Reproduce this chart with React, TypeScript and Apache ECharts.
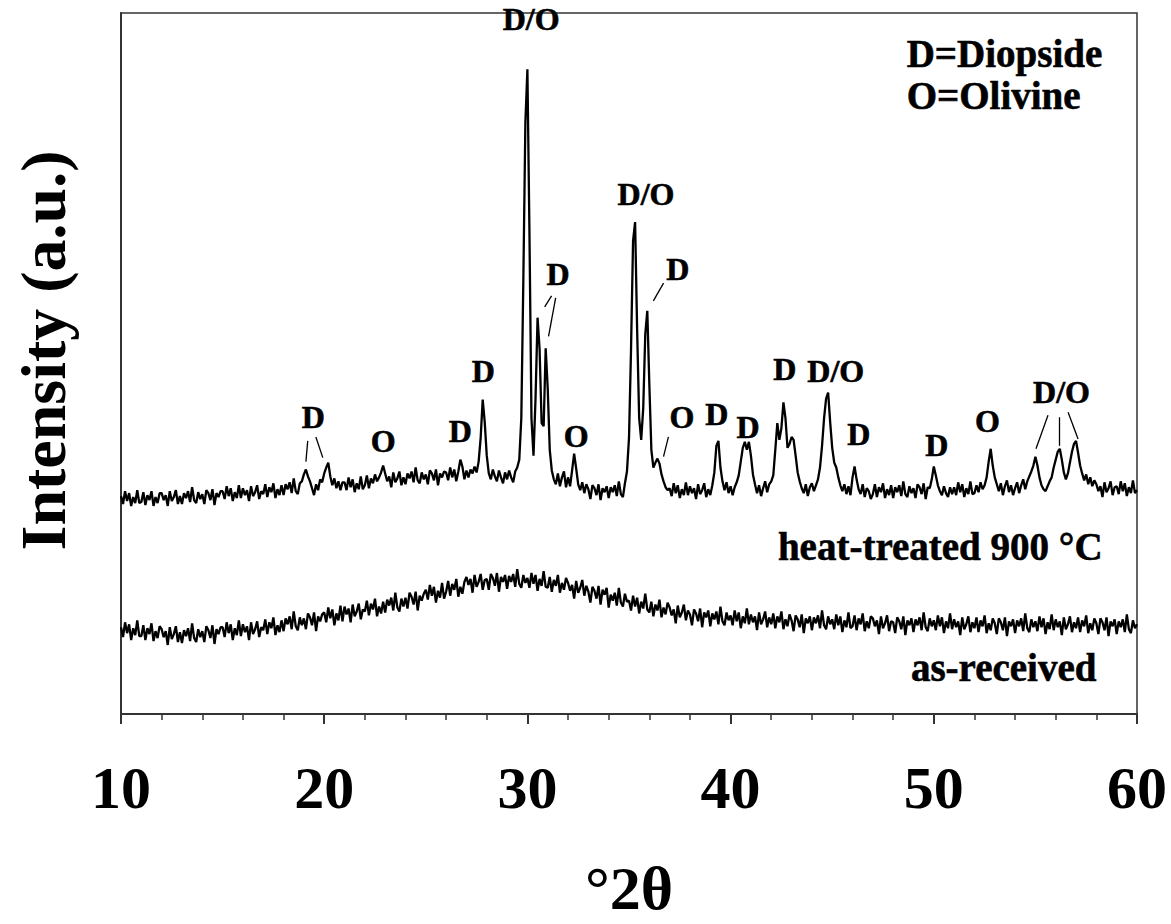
import React, { useEffect, useRef } from "react";
import * as echarts from "echarts";

// 2θ grid of the scans (degrees)
const THETA_START = 10;
const THETA_STEP = 0.1;

// heat-treated 900 °C scan, one row per degree (10.0 … 10.9, 11.0 … )
const heatTreated: number[] = [
  221, 213, 226, 216, 224, 211, 220, 214, 227, 214,
  215, 225, 212, 222, 217, 226, 211, 220, 214, 224,
  224, 217, 222, 211, 226, 216, 220, 227, 213, 221,
  213, 224, 219, 226, 215, 230, 217, 214, 225, 218,
  223, 213, 227, 224, 217, 228, 212, 224, 220, 226,
  226, 218, 231, 221, 229, 216, 225, 219, 232, 219,
  229, 222, 227, 216, 231, 221, 225, 232, 218, 226,
  223, 233, 220, 230, 225, 234, 219, 228, 222, 232,
  222, 233, 228, 235, 224, 239, 226, 223, 234, 236,
  243, 248, 241, 236, 229, 222, 233, 227, 238, 235,
  244, 250, 255, 241, 232, 239, 229, 236, 227, 235,
  235, 227, 240, 230, 238, 225, 234, 228, 241, 228,
  232, 242, 229, 239, 234, 243, 236, 240, 245, 252,
  244, 236, 241, 230, 245, 235, 239, 246, 232, 240,
  233, 244, 239, 246, 235, 250, 237, 234, 245, 238,
  243, 233, 247, 244, 237, 248, 232, 244, 240, 246,
  245, 237, 250, 240, 248, 236, 246, 258, 251, 238,
  247, 240, 248, 244, 251, 245, 256, 280, 319, 296,
  262, 244, 238, 248, 241, 236, 247, 240, 234, 245,
  238, 247, 240, 235, 246, 250, 258, 300, 440, 600,
  654, 490, 300, 262, 320, 402, 370, 295, 292, 371,
  330, 268, 247, 238, 233, 244, 231, 240, 246, 230,
  240, 231, 247, 264, 249, 233, 227, 235, 224, 233,
  228, 218, 232, 229, 222, 233, 217, 229, 225, 231,
  219, 230, 225, 232, 221, 236, 223, 220, 234, 246,
  280, 370, 480, 499, 390, 300, 278, 310, 385, 409,
  335, 268, 250, 255, 259, 254, 243, 236, 230, 227,
  229, 221, 234, 224, 232, 219, 228, 222, 235, 222,
  231, 224, 229, 218, 233, 223, 227, 234, 220, 228,
  222, 232, 245, 272, 277, 250, 236, 227, 235, 224,
  231, 222, 230, 235, 242, 256, 270, 276, 268, 276,
  262, 243, 233, 224, 232, 221, 229, 236, 225, 233,
  236, 242, 268, 295, 278, 290, 316, 300, 270, 274,
  281, 278, 262, 245, 236, 229, 224, 233, 221, 230,
  234, 226, 232, 238, 250, 272, 300, 320, 326, 296,
  270, 255, 250, 240, 232, 226, 233, 223, 231, 222,
  240, 251, 238, 228, 223, 233, 220, 229, 226, 218,
  223, 233, 220, 230, 225, 234, 219, 228, 222, 232,
  219, 230, 225, 232, 221, 236, 223, 220, 231, 224,
  229, 219, 233, 230, 223, 234, 218, 230, 229, 238,
  251, 242, 232, 226, 222, 231, 224, 220, 230, 223,
  230, 222, 235, 225, 233, 220, 229, 223, 236, 223,
  224, 232, 225, 235, 228, 232, 240, 256, 269, 252,
  240, 233, 226, 234, 222, 231, 237, 225, 232, 222,
  229, 235, 224, 232, 238, 228, 236, 241, 246, 252,
  261, 252, 240, 232, 228, 226, 231, 236, 240, 250,
  258, 266, 269, 258, 245, 238, 244, 255, 266, 274,
  277, 265, 252, 244, 237, 243, 233, 240, 231, 237,
  233, 226, 231, 220, 235, 225, 229, 236, 222, 230,
  231, 223, 236, 226, 234, 221, 230, 224, 237, 224,
  227,
];

// as-received scan, one row per degree
const asReceived: number[] = [
  88, 78, 93, 82, 91, 75, 87, 80, 95, 79,
  79, 90, 75, 87, 81, 92, 74, 84, 77, 89,
  86, 78, 84, 70, 88, 76, 81, 89, 73, 83,
  72, 85, 79, 87, 74, 92, 77, 73, 86, 78,
  84, 73, 89, 85, 77, 90, 71, 86, 81, 88,
  88, 78, 93, 82, 91, 75, 87, 80, 95, 79,
  91, 83, 89, 75, 93, 81, 86, 94, 78, 88,
  85, 96, 81, 93, 87, 98, 80, 90, 83, 95,
  84, 97, 91, 99, 86, 104, 89, 85, 98, 90,
  97, 86, 102, 98, 90, 103, 84, 99, 94, 101,
  103, 93, 108, 97, 106, 90, 102, 95, 110, 94,
  109, 101, 107, 93, 111, 99, 104, 112, 96, 106,
  104, 115, 100, 112, 106, 117, 99, 109, 102, 114,
  103, 116, 110, 118, 105, 123, 108, 104, 117, 109,
  118, 107, 123, 119, 111, 124, 105, 120, 115, 122,
  126, 116, 131, 120, 129, 113, 125, 118, 133, 117,
  124, 135, 120, 132, 126, 137, 119, 129, 122, 134,
  139, 131, 137, 123, 141, 129, 134, 142, 126, 136,
  137, 126, 142, 138, 130, 143, 124, 139, 134, 141,
  127, 140, 134, 142, 129, 147, 132, 128, 141, 133,
  138, 128, 143, 132, 141, 125, 137, 130, 145, 129,
  128, 139, 124, 136, 130, 141, 123, 133, 126, 138,
  133, 125, 131, 117, 135, 123, 128, 136, 120, 130,
  124, 113, 129, 125, 117, 130, 111, 126, 121, 128,
  108, 121, 115, 123, 110, 128, 113, 109, 122, 114,
  115, 105, 120, 109, 118, 102, 114, 107, 122, 106,
  103, 114, 99, 111, 105, 116, 98, 108, 101, 113,
  108, 100, 106, 92, 110, 98, 103, 111, 95, 105,
  101, 90, 106, 102, 94, 107, 88, 103, 98, 105,
  89, 102, 96, 104, 91, 109, 94, 90, 103, 95,
  100, 90, 105, 94, 103, 87, 99, 92, 107, 91,
  101, 93, 99, 85, 103, 91, 96, 104, 88, 98,
  91, 102, 87, 99, 93, 104, 86, 96, 89, 101,
  95, 84, 100, 96, 88, 101, 82, 97, 92, 99,
  85, 98, 92, 100, 87, 105, 90, 86, 99, 91,
  96, 86, 101, 90, 99, 83, 95, 88, 103, 87,
  89, 100, 85, 97, 91, 102, 84, 94, 87, 99,
  97, 89, 95, 81, 99, 87, 92, 100, 84, 94,
  93, 82, 98, 94, 86, 99, 80, 95, 90, 97,
  83, 96, 90, 98, 85, 103, 88, 84, 97, 89,
  95, 85, 100, 89, 98, 82, 94, 87, 102, 86,
  96, 88, 94, 80, 98, 86, 91, 99, 83, 93,
  87, 98, 83, 95, 89, 100, 82, 92, 85, 97,
  92, 81, 97, 93, 85, 98, 79, 94, 89, 96,
  82, 95, 89, 97, 84, 102, 87, 83, 96, 88,
  94, 84, 99, 88, 97, 81, 93, 86, 101, 85,
  96, 88, 94, 80, 98, 86, 91, 99, 83, 93,
  87, 98, 83, 95, 89, 100, 82, 92, 85, 97,
  92, 81, 97, 93, 85, 98, 79, 94, 89, 96,
  81, 94, 88, 96, 83, 101, 86, 82, 95, 87,
  91,
];

// phase labels: [2θ, intensity, text]
const peakLabels: [number, number, string][] = [
  [19.49, 301, "D"],
  [22.93, 276, "O"],
  [26.72, 287, "D"],
  [27.85, 347, "D"],
  [30.21, 704, "D/O"],
  [31.53, 446, "D"],
  [32.42, 281, "O"],
  [35.86, 527, "D/O"],
  [37.43, 451, "D"],
  [37.63, 301, "O"],
  [39.35, 304, "D"],
  [40.88, 291, "D"],
  [42.69, 349, "D"],
  [45.2, 347, "D/O"],
  [46.33, 283, "D"],
  [50.17, 272, "D"],
  [52.67, 297, "O"],
  [56.31, 326, "D/O"],
];

// leader lines: [2θ1, I1, 2θ2, I2]
const leaderLines: [number, number, number, number][] = [
  [19.19, 277, 19.1, 256],
  [19.59, 281, 19.93, 260],
  [31.19, 424, 30.85, 413],
  [31.39, 422, 31.04, 383],
  [36.7, 437, 36.2, 419],
  [36.94, 281, 36.7, 261],
  [55.62, 303, 55.03, 269],
  [56.16, 301, 56.16, 272],
  [56.61, 306, 57.1, 279],
];

// key and trace captions: [2θ, intensity, text, align]
const captions: [number, number, string, string][] = [
  [48.69, 669, "D=Diopside", "left"],
  [48.69, 627, "O=Olivine", "left"],
  [58.33, 169, "heat-treated 900 °C", "right"],
  [58.03, 47, "as-received", "right"],
];

const X_MIN = 10;
const X_MAX = 60;
const X_INTERVAL = 10;
const Y_MIN = 0;
const Y_MAX = 711;

const FONT = "'Liberation Serif', 'Times New Roman', serif";

function toPairs(values: number[]) {
  return values.map((v, i) => [
    Math.round((THETA_START + i * THETA_STEP) * 10) / 10,
    v,
  ]);
}

export default function App() {
  const ref = useRef<HTMLDivElement>(null);

  useEffect(() => {
    if (!ref.current) return;
    const chart = echarts.init(ref.current, undefined, { renderer: "svg" });
    chart.setOption({
      animation: false,
      backgroundColor: "#fff",
      grid: {
        left: 121,
        right: 34,
        top: 13,
        bottom: 200,
        show: true,
        borderColor: "#333",
        borderWidth: 1.5,
        backgroundColor: "transparent",
      },
      xAxis: {
        type: "value",
        min: X_MIN,
        max: X_MAX,
        interval: X_INTERVAL,
        name: "°2θ",
        nameLocation: "middle",
        nameGap: 143,
        nameTextStyle: {
          fontFamily: FONT,
          fontWeight: "bold",
          fontSize: 62,
          color: "#000",
        },
        axisLine: { show: true, lineStyle: { color: "#333", width: 2 } },
        axisTick: {
          show: true,
          inside: false,
          length: 10,
          lineStyle: { color: "#333", width: 2 },
        },
        minorTick: {
          show: true,
          splitNumber: 5,
          length: 6,
          lineStyle: { color: "#333", width: 1.5 },
        },
        splitLine: { show: false },
        axisLabel: {
          margin: 44,
          fontFamily: FONT,
          fontWeight: "bold",
          fontSize: 60,
          color: "#000",
        },
      },
      yAxis: {
        type: "value",
        min: Y_MIN,
        max: Y_MAX,
        name: "Intensity (a.u.)",
        nameLocation: "middle",
        nameGap: 46,
        nameTextStyle: {
          fontFamily: FONT,
          fontWeight: "bold",
          fontSize: 64,
          color: "#000",
          padding: [0, 0, 0, 26],
        },
        axisLine: { show: true, lineStyle: { color: "#333", width: 2 } },
        axisTick: { show: false },
        axisLabel: { show: false },
        splitLine: { show: false },
      },
      series: [
        {
          name: "heat-treated 900 °C",
          type: "line",
          data: toPairs(heatTreated),
          showSymbol: false,
          lineStyle: { color: "#000", width: 2.3 },
          silent: true,
        },
        {
          name: "as-received",
          type: "line",
          data: toPairs(asReceived),
          showSymbol: false,
          lineStyle: { color: "#000", width: 2.3 },
          silent: true,
        },
        {
          name: "phase labels",
          type: "scatter",
          symbolSize: 1,
          itemStyle: { color: "transparent", opacity: 1 },
          silent: true,
          data: peakLabels.map(([x, y, t]) => ({ value: [x, y], name: t })),
          label: {
            show: true,
            position: [0, 0],
            align: "center",
            verticalAlign: "middle",
            formatter: (p: any) => p.name,
            fontFamily: FONT,
            fontWeight: "bold",
            fontSize: 32,
            color: "#000",
            opacity: 1,
            textBorderColor: "#000",
            textBorderWidth: 0.6,
          },
          markLine: {
            silent: true,
            symbol: ["none", "none"],
            label: { show: false },
            lineStyle: { color: "#000", width: 1.3, type: "solid", opacity: 1 },
            data: leaderLines.map(([x1, y1, x2, y2]) => [
              { coord: [x1, y1] },
              { coord: [x2, y2] },
            ]),
          },
        },
        {
          name: "captions",
          type: "scatter",
          symbolSize: 1,
          itemStyle: { color: "transparent", opacity: 1 },
          silent: true,
          data: captions.map(([x, y, t, a]) => ({
            value: [x, y],
            name: t,
            label: { align: a },
          })),
          label: {
            show: true,
            position: [0, 0],
            verticalAlign: "middle",
            formatter: (p: any) => p.name,
            fontFamily: FONT,
            fontWeight: "bold",
            fontSize: 39,
            color: "#000",
            opacity: 1,
            textBorderColor: "#000",
            textBorderWidth: 0.6,
          },
        },
      ],
    });
    return () => chart.dispose();
  }, []);

  return (
    <div
      ref={ref}
      style={{
        position: "fixed",
        left: 0,
        top: 0,
        width: 1171,
        height: 924,
        background: "#fff",
      }}
    />
  );
}
